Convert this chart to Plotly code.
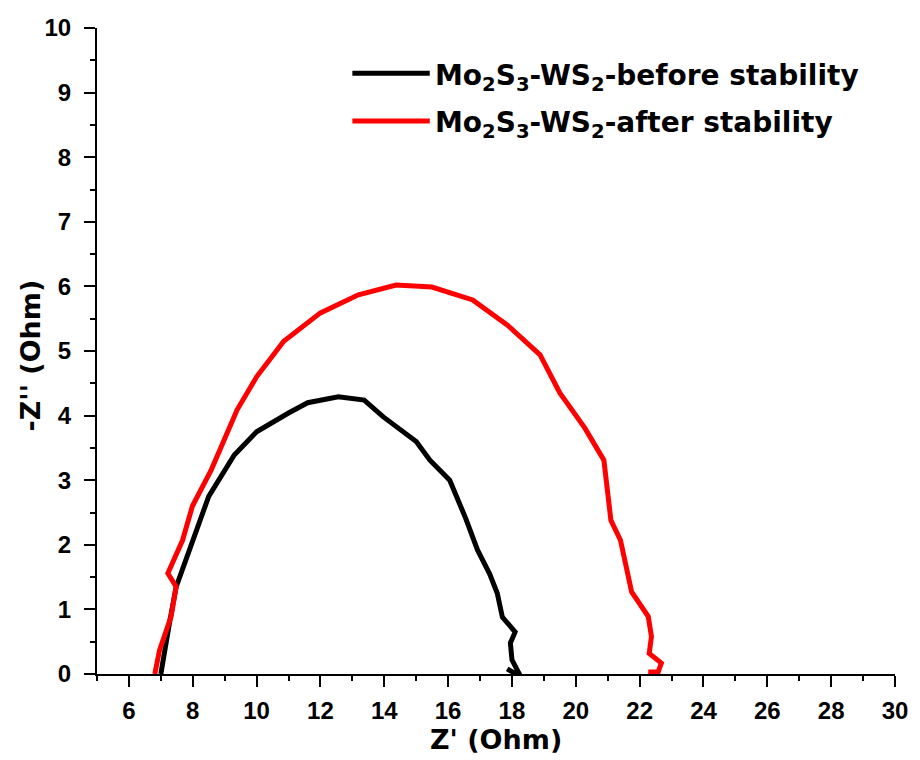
import plotly.graph_objects as go

before_x = [7.00, 7.12, 7.27, 7.48, 7.99, 8.5, 9.3, 10.0, 11.0, 11.6, 12.56, 13.37, 13.97, 15.0, 15.43, 16.05, 16.55, 16.92, 17.3, 17.54, 17.7, 18.1, 17.95, 18.0, 18.2, 18.05, 17.85]
before_y = [0.0, 0.4, 0.79, 1.35, 2.07, 2.75, 3.39, 3.75, 4.04, 4.2, 4.29, 4.24, 3.98, 3.6, 3.31, 3.0, 2.41, 1.92, 1.55, 1.25, 0.88, 0.65, 0.48, 0.22, 0.03, 0.02, 0.08]

after_x = [6.81, 6.96, 7.32, 7.48, 7.22, 7.68, 7.99, 8.58, 9.39, 10.0, 10.85, 12.0, 13.19, 14.37, 15.49, 16.77, 17.86, 18.88, 19.5, 20.28, 20.88, 21.1, 21.4, 21.75, 22.27, 22.37, 22.3, 22.68, 22.58, 22.27]
after_y = [0.0, 0.37, 0.89, 1.35, 1.56, 2.07, 2.6, 3.16, 4.09, 4.6, 5.15, 5.59, 5.87, 6.02, 5.99, 5.79, 5.4, 4.94, 4.35, 3.81, 3.31, 2.38, 2.07, 1.27, 0.89, 0.58, 0.32, 0.17, 0.03, 0.03]

names = ["Mo<sub>2</sub>S<sub>3</sub>-WS<sub>2</sub>-before stability",
         "Mo<sub>2</sub>S<sub>3</sub>-WS<sub>2</sub>-after stability"]
colors = ["#000000", "#ff0000"]

FONT = "Liberation Sans, Arial, sans-serif"
WIDE = "DejaVu Sans, sans-serif"

fig = go.Figure()
fig.add_trace(go.Scatter(x=before_x, y=before_y, mode="lines", name=names[0],
                         line=dict(color=colors[0], width=5), showlegend=False))
fig.add_trace(go.Scatter(x=after_x, y=after_y, mode="lines", name=names[1],
                         line=dict(color=colors[1], width=5), showlegend=False))

axis_common = dict(showline=True, linecolor="black", linewidth=2, showgrid=False,
                   zeroline=False, ticks="outside", ticklen=11, tickwidth=2,
                   tickcolor="black", mirror=False,
                   tickfont=dict(family=FONT, size=24, color="black", weight="bold"))

fig.update_xaxes(range=[5, 30], tickvals=list(range(6, 31, 2)),
                 minor=dict(tickvals=list(range(5, 30, 2)), ticks="outside", ticklen=5,
                            tickwidth=2, tickcolor="black"),
                 ticklabelstandoff=3, **axis_common)
fig.update_yaxes(range=[0, 10], tickvals=list(range(0, 11)),
                 minor=dict(tickvals=[i + 0.5 for i in range(10)], ticks="outside", ticklen=5,
                            tickwidth=2, tickcolor="black"),
                 ticklabelstandoff=8, **axis_common)

# legend drawn manually
leg_y = [0.930, 0.856]
for i in range(2):
    fig.add_shape(type="line", xref="paper", yref="paper", x0=0.320, x1=0.417,
                  y0=leg_y[i], y1=leg_y[i], line=dict(color=colors[i], width=5))
    fig.add_annotation(xref="paper", yref="paper", x=0.421, y=leg_y[i] - 0.006,
                       text=names[i], showarrow=False, xanchor="left", yanchor="middle",
                       font=dict(family=WIDE, size=28, color="black", weight="bold"))

fig.add_annotation(xref="paper", yref="paper", x=0.5, y=(674 - 739) / 646,
                   text="Z' (Ohm)", showarrow=False, xanchor="center", yanchor="middle",
                   font=dict(family=WIDE, size=27, color="black", weight="bold"))
fig.add_annotation(xref="paper", yref="paper", x=(30 - 97) / 803, y=(674 - 355) / 646,
                   text="-Z'' (Ohm)", showarrow=False, xanchor="center", yanchor="middle",
                   textangle=-90,
                   font=dict(family=WIDE, size=27, color="black", weight="bold"))

fig.update_layout(width=920, height=760, margin=dict(l=97, r=20, t=28, b=86),
                  plot_bgcolor="white", paper_bgcolor="white", showlegend=False)

fig.write_html("out.html")
